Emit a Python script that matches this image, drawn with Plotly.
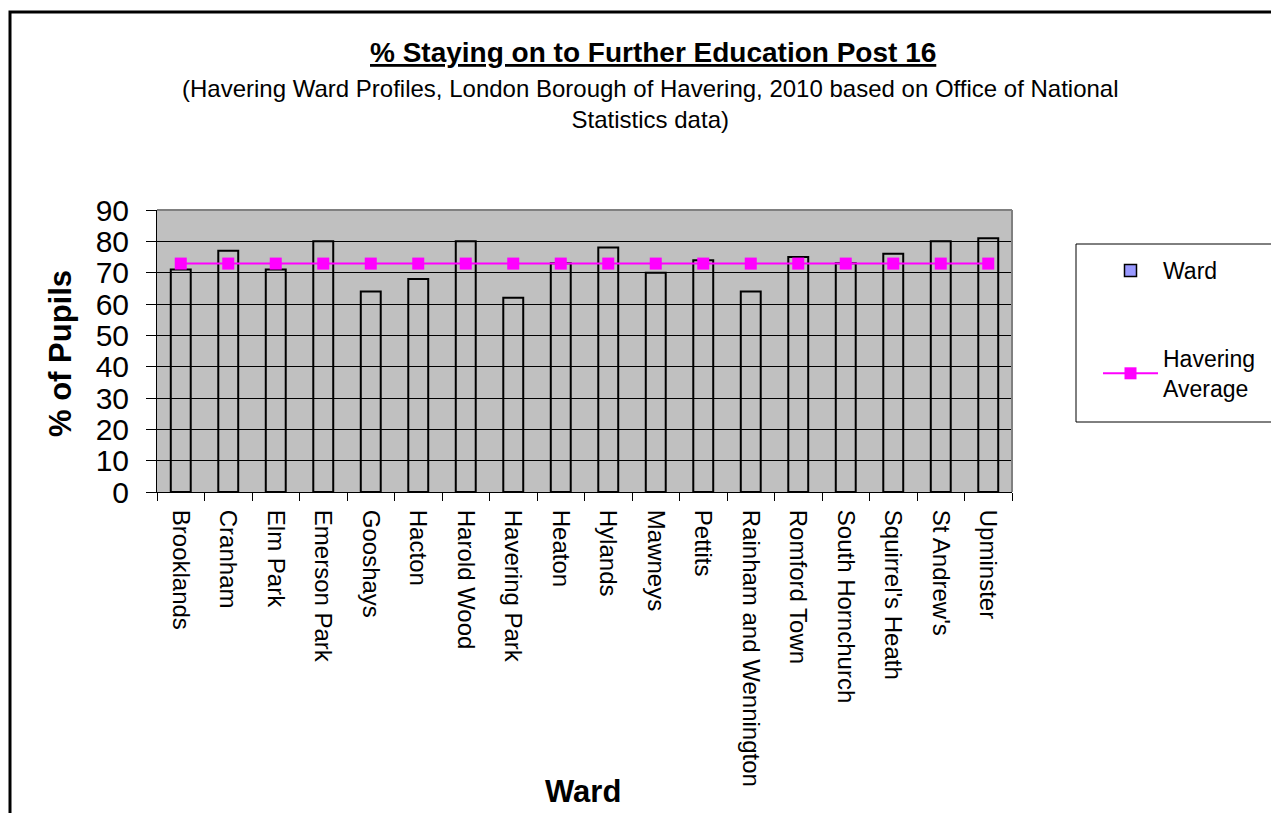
import plotly.graph_objects as go

wards = ["Brooklands", "Cranham", "Elm Park", "Emerson Park", "Gooshays", "Hacton",
         "Harold Wood", "Havering Park", "Heaton", "Hylands", "Mawneys", "Pettits",
         "Rainham and Wennington", "Romford Town", "South Hornchurch",
         "Squirrel's Heath", "St Andrew's", "Upminster"]
ward_values = [71, 77, 71, 80, 64, 68, 80, 62, 73, 78, 70, 74, 64, 75, 73, 76, 80, 81]
havering_average = [72.9] * len(wards)
y_ticks = [0, 10, 20, 30, 40, 50, 60, 70, 80, 90]

FONT = "Liberation Sans, Arial, sans-serif"

fig = go.Figure()
fig.add_trace(go.Bar(
    x=wards, y=ward_values, name="Ward", showlegend=False,
    width=0.42,
    marker=dict(color="rgba(0,0,0,0)", line=dict(color="black", width=2)),
))
# legend entry for the bar series (fill colour as shown in the legend)
fig.add_trace(go.Bar(
    x=[wards[0]], y=[None], name="Ward", legendgroup="a",
    marker=dict(color="#9999FF", line=dict(color="black", width=1.5)),
))
fig.add_trace(go.Scatter(
    x=wards, y=havering_average, name="Havering<br>Average", legendgroup="b",
    mode="lines+markers",
    line=dict(color="#FF00FF", width=2),
    marker=dict(symbol="square", size=12, color="#FF00FF"),
))

# page offset introduced by the html body margin
OX, OY = 8, 7
W, H = 1279 - OX, 813 - OY
L, R, T, B = 157, 1012, 209, 491   # plot area in screen pixels
pw, ph = R - L, B - T

def px(xp):
    return (xp - L) / pw

def py(yp):
    return (B - yp) / ph

fig.update_layout(
    width=W, height=H,
    margin=dict(l=L - OX, r=W - (R - OX), t=T - OY, b=H - (B - OY), pad=0),
    paper_bgcolor="white",
    plot_bgcolor="#C0C0C0",
    font=dict(family=FONT, color="black"),
    barmode="overlay",
    showlegend=True,
    legend=dict(
        x=px(1098), y=py(248), xanchor="left", yanchor="top",
        borderwidth=0, bgcolor="rgba(0,0,0,0)",
        font=dict(size=23, family=FONT),
        tracegroupgap=55, traceorder="grouped",
        itemwidth=55,
    ),
    xaxis=dict(
        type="category", range=[-0.5, len(wards) - 0.5],
        tickangle=90, tickfont=dict(size=24, family=FONT),
        ticks="outside", ticklen=8, tickcolor="black", tickson="boundaries",
        ticklabelstandoff=12,
        showline=True, linecolor="black", linewidth=1,
        showgrid=False,
    ),
    yaxis=dict(
        range=[0, 90], tickvals=y_ticks, ticktext=[str(v) for v in y_ticks],
        tickfont=dict(size=30, family=FONT),
        ticks="outside", ticklen=10, tickcolor="black",
        ticklabelstandoff=11,
        showline=True, linecolor="black", linewidth=1,
        showgrid=True, gridcolor="black", gridwidth=1,
        zeroline=False,
    ),
    shapes=[
        dict(type="line", xref="paper", yref="paper", x0=0, x1=1, y0=1, y1=1,
             line=dict(color="#808080", width=2)),
        dict(type="line", xref="paper", yref="paper", x0=1, x1=1, y0=0, y1=1,
             line=dict(color="#808080", width=2)),
        # legend frame
        dict(type="rect", xref="paper", yref="paper", layer="below",
             x0=px(1076), x1=px(1300), y0=py(421), y1=py(243),
             line=dict(color="black", width=1), fillcolor="white"),
        # chart frame
        dict(type="rect", xref="paper", yref="paper",
             x0=px(10), x1=px(1300), y0=py(830), y1=py(11),
             line=dict(color="black", width=3), fillcolor="rgba(0,0,0,0)"),
    ],
    annotations=[
        dict(text="<b><u>% Staying on to Further Education Post 16</u></b>",
             xref="paper", yref="paper", x=px(653), y=py(52),
             xanchor="center", yanchor="middle", showarrow=False,
             font=dict(size=28, family=FONT)),
        dict(text="(Havering Ward Profiles, London Borough of Havering, 2010 based on Office of National<br>Statistics data)",
             xref="paper", yref="paper", x=px(650), y=py(103),
             xanchor="center", yanchor="middle", showarrow=False,
             font=dict(size=24, family=FONT)),
        dict(text="<b>Ward</b>", xref="paper", yref="paper", x=px(583), y=py(790),
             xanchor="center", yanchor="middle", showarrow=False,
             font=dict(size=31, family=FONT)),
        dict(text="<b>% of Pupils</b>", xref="paper", yref="paper", x=px(60), y=py(353),
             xanchor="center", yanchor="middle", showarrow=False, textangle=-90,
             font=dict(size=31, family=FONT)),
    ],
)

fig.write_html("out.html")
